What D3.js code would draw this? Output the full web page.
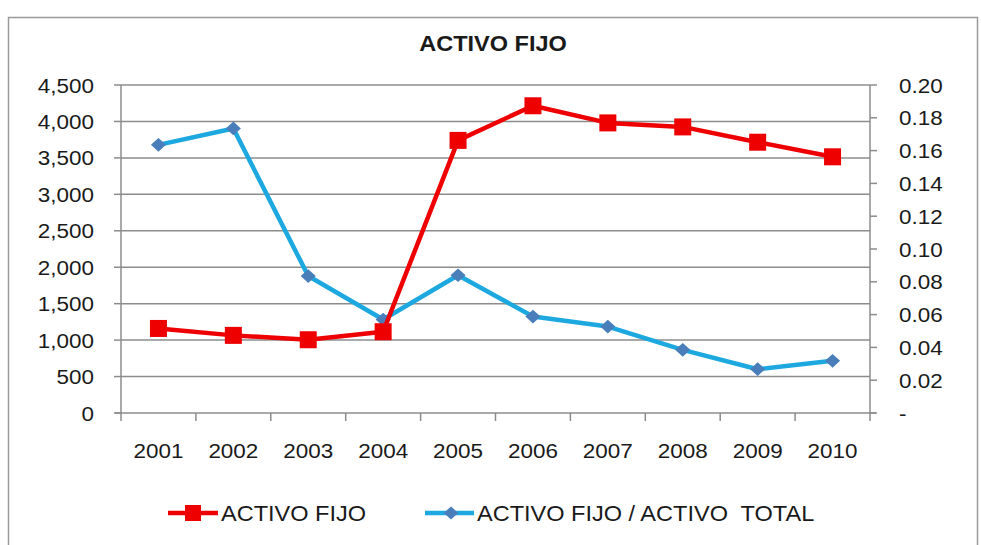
<!DOCTYPE html>
<html><head><meta charset="utf-8">
<script src="https://cdn.jsdelivr.net/npm/d3@7"></script>
<style>
html,body{margin:0;padding:0;background:#fff;}
text{font-family:"Liberation Sans",Arial,sans-serif;fill:#1a1a1a;}
</style></head>
<body>
<svg id="c" width="981" height="545"></svg>
<script>
const years = ["2001","2002","2003","2004","2005","2006","2007","2008","2009","2010"];
const activoFijo = [1160, 1065, 1005, 1115, 3740, 4215, 3980, 3925, 3715, 3515];
const ratio = [0.1635, 0.1735, 0.0835, 0.0570, 0.0840, 0.0588, 0.0527, 0.0385, 0.0267, 0.0318];
const leftTicks = [0,500,1000,1500,2000,2500,3000,3500,4000,4500];
const rightTicks = [0,0.02,0.04,0.06,0.08,0.10,0.12,0.14,0.16,0.18,0.20];
const seriesNames = ["ACTIVO FIJO", "ACTIVO FIJO / ACTIVO  TOTAL"];

const svg = d3.select("#c");
const L = 121, R = 870, T = 85, B = 413;
const SX = 1.07;
const x = d3.scaleBand().domain(years).range([L, R]);
const yL = d3.scaleLinear().domain([0, 4500]).range([B, T]);
const yR = d3.scaleLinear().domain([0, 0.20]).range([B, T]);

function txt(g, xx, yy, s, anchor, size, weight) {
  return g.append("text")
    .attr("transform", `translate(${xx},${yy}) scale(${SX},1)`)
    .attr("text-anchor", anchor).attr("font-size", size)
    .attr("font-weight", weight || "normal")
    .attr("xml:space", "preserve").style("white-space", "pre")
    .text(s);
}

// outer border
svg.append("rect").attr("x", 8.5).attr("y", 17.5).attr("width", 969).attr("height", 560)
  .attr("fill", "none").attr("stroke", "#9a9a9a").attr("stroke-width", 1.5);

// title
txt(svg, 493, 51, "ACTIVO FIJO", "middle", 22, "bold");

const grid = svg.append("g");
leftTicks.forEach(v => {
  if (v > 0) grid.append("line").attr("x1", L).attr("x2", R).attr("y1", yL(v)).attr("y2", yL(v))
    .attr("stroke", "#8c8c8c").attr("stroke-width", 1.5);
});
// axes
const ax = svg.append("g").attr("stroke", "#8c8c8c").attr("stroke-width", 1.5);
ax.append("line").attr("x1", L).attr("x2", L).attr("y1", T).attr("y2", B);
ax.append("line").attr("x1", R).attr("x2", R).attr("y1", T).attr("y2", B);
ax.append("line").attr("x1", L - 6).attr("x2", R + 6).attr("y1", B).attr("y2", B);
leftTicks.forEach(v => ax.append("line").attr("x1", L - 7).attr("x2", L).attr("y1", yL(v)).attr("y2", yL(v)));
rightTicks.forEach(v => ax.append("line").attr("x1", R).attr("x2", R + 7).attr("y1", yR(v)).attr("y2", yR(v)));
const bounds = years.map(d => x(d)).concat([R]);
bounds.forEach(b => ax.append("line").attr("x1", b).attr("x2", b).attr("y1", B).attr("y2", B + 8));

const fmtL = d3.format(",");
leftTicks.forEach(v => txt(svg, 94, yL(v) + 7.5, fmtL(v), "end", 21));
rightTicks.forEach(v => txt(svg, 899, yR(v) + 7.5, v === 0 ? "-" : v.toFixed(2), "start", 21));
years.forEach(d => txt(svg, x(d) + x.bandwidth() / 2, 458, d, "middle", 21));

const cx = d => x(d) + x.bandwidth() / 2;
const red = "#ee0000", blueLine = "#1ea8e0", blueMark = "#4a7ebb";

// blue series
svg.append("path").datum(ratio)
  .attr("d", d3.line().x((d, i) => cx(years[i])).y(d => yR(d)))
  .attr("fill", "none").attr("stroke", blueLine).attr("stroke-width", 4.5).attr("stroke-linejoin", "round");
svg.selectAll(".dm").data(ratio).enter().append("path")
  .attr("d", d3.symbol(d3.symbolDiamond2, 120)())
  .attr("transform", (d, i) => `translate(${cx(years[i])},${yR(d)}) scale(1.1,1)`)
  .attr("fill", blueMark);

// red series
svg.append("path").datum(activoFijo)
  .attr("d", d3.line().x((d, i) => cx(years[i])).y(d => yL(d)))
  .attr("fill", "none").attr("stroke", red).attr("stroke-width", 4.5).attr("stroke-linejoin", "round");
svg.selectAll(".sq").data(activoFijo).enter().append("rect")
  .attr("x", (d, i) => cx(years[i]) - 8.5).attr("y", d => yL(d) - 8.5)
  .attr("width", 17).attr("height", 17).attr("fill", red);

// legend
const lg = svg.append("g");
lg.append("line").attr("x1", 168).attr("x2", 218).attr("y1", 513).attr("y2", 513).attr("stroke", red).attr("stroke-width", 4.5);
lg.append("rect").attr("x", 185).attr("y", 505).attr("width", 16).attr("height", 16).attr("fill", red);
txt(lg, 221, 521, seriesNames[0], "start", 22);
lg.append("line").attr("x1", 425).attr("x2", 474).attr("y1", 513).attr("y2", 513).attr("stroke", blueLine).attr("stroke-width", 4.5);
lg.append("path").attr("d", d3.symbol(d3.symbolDiamond2, 110)()).attr("transform", "translate(451,513) scale(1.1,1)").attr("fill", blueMark);
txt(lg, 477, 521, seriesNames[1], "start", 22);
</script>
</body></html>
